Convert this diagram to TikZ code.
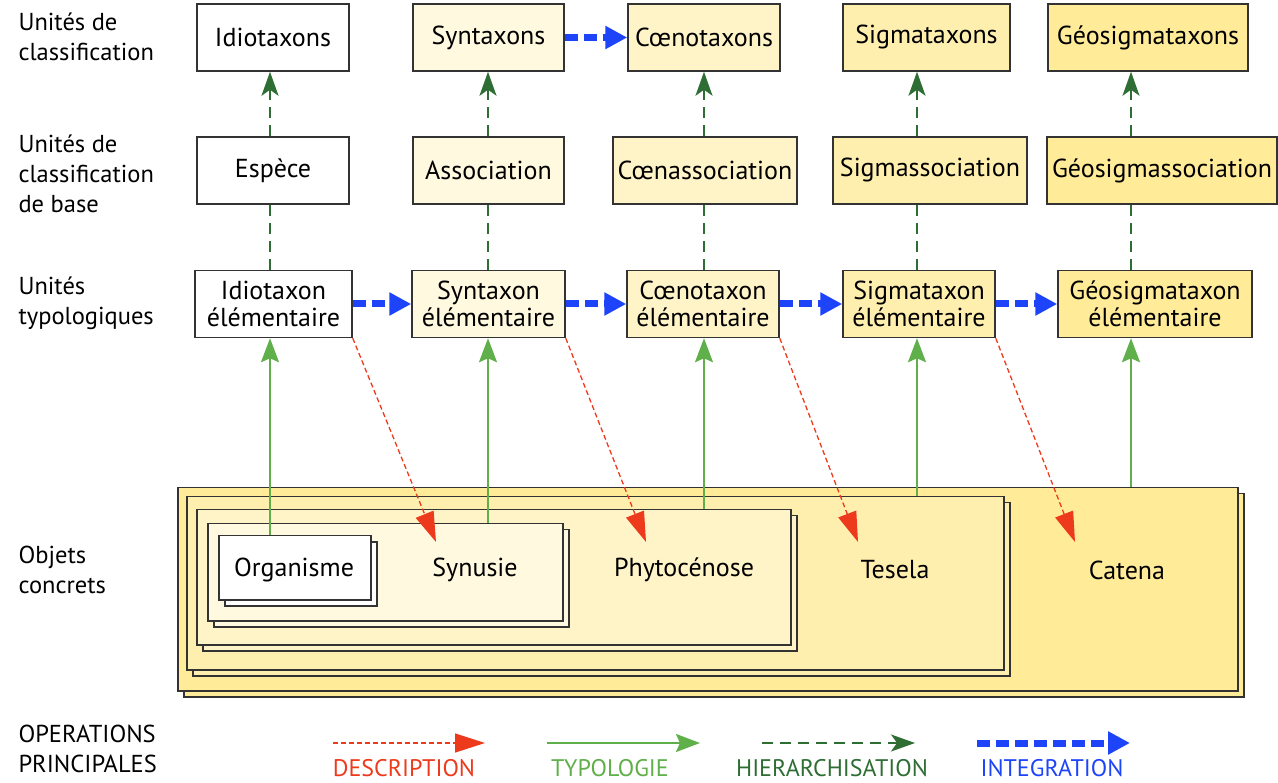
\documentclass[tikz,border=0pt]{standalone}
\usepackage{fontspec}
\setmainfont{PT Sans}
\usepackage{xcolor}
\usepackage{tikz}
\usetikzlibrary{arrows.meta,shadows}

\definecolor{boxline}{HTML}{333333}
\definecolor{yelA}{HTML}{FFF9DF}
\definecolor{yelB}{HTML}{FFF4C8}
\definecolor{yelC}{HTML}{FFEFAF}
\definecolor{yelD}{HTML}{FFEB98}
\definecolor{descred}{HTML}{EE3A1C}
\definecolor{typogreen}{HTML}{5FAF4A}
\definecolor{hiergreen}{HTML}{2E6E35}
\definecolor{integblue}{HTML}{1E44FA}

\begin{document}
\begin{tikzpicture}[
    x=1pt, y=-1pt,
    every node/.style={font=\fontsize{26}{27}\selectfont},
    unit/.style={
        draw=boxline,
        line width=1.5pt,
        minimum height=67pt,
        inner sep=1pt,
        align=center
    },
    concrete/.style={
        draw=boxline,
        fill=#1,
        line width=1.5pt,
        inner sep=0pt,
        anchor=north west,
        copy shadow={shadow xshift=6pt, shadow yshift=-6pt, draw=boxline, fill=#1, line width=1.5pt}
    },
    rowlabel/.style={anchor=west, align=left, font=\fontsize{24.5}{30}\selectfont},
    legtext/.style={anchor=base, inner sep=0pt, font=\fontsize{24}{26}\selectfont},
    descr/.style={draw=descred, line width=1.3pt, dash pattern=on 5pt off 3pt,
        -{Triangle[length=30pt, width=19pt]}},
    typo/.style={draw=typogreen, line width=2pt, -{Stealth[length=24pt, width=18pt, inset=4pt]}},
    hier/.style={draw=hiergreen, line width=2pt, dash pattern=on 11pt off 7pt},
    hierarrow/.style={hier, -{Stealth[length=24pt, width=17pt, inset=6pt]}},
    integ/.style={draw=integblue, line width=7pt, dash pattern=on 13pt off 6pt,
        -{Triangle[length=22pt, width=22pt]}}
]
\useasboundingbox (0,0) rectangle (1278,783);

\coordinate (c1) at (270,0);
\coordinate (c2) at (488,0);
\coordinate (c3) at (704,0);
\coordinate (c4) at (917,0);
\coordinate (c5) at (1131,0);

\node[rowlabel] (lblclass) at (15,37) {Unités de\\classification};
\node[rowlabel] (lblbase) at (15,174) {Unités de\\classification\\de base};
\node[rowlabel] (lbltypo) at (15,303) {Unités\\typologiques};
\node[rowlabel] (lblobj) at (15,570) {Objets\\concrets};
\node[rowlabel] (lblops) at (15,749) {OPERATIONS\\PRINCIPALES};

\node[unit, fill=white, minimum width=152pt] (idiotaxons) at (273,37.5) {Idiotaxons};
\node[unit, fill=yelA, minimum width=151pt] (syntaxons) at (488.5,37.5) {Syntaxons};
\node[unit, fill=yelB, minimum width=152pt] (coenotaxons) at (704,37.5) {Cœnotaxons};
\node[unit, fill=yelC, minimum width=167pt] (sigmataxons) at (926.5,37.5) {Sigmataxons};
\node[unit, fill=yelD, minimum width=200pt] (geotaxons) at (1148,37.5) {Géosigmataxons};

\node[unit, fill=white, minimum width=152pt] (espece) at (273,170.5) {Espèce};
\node[unit, fill=yelA, minimum width=151pt] (association) at (488.5,170.5) {Association};
\node[unit, fill=yelB, minimum width=184pt] (coenass) at (705,170.5) {Cœnassociation};
\node[unit, fill=yelC, minimum width=194pt] (sigmass) at (930,170.5) {Sigmassociation};
\node[unit, fill=yelD, minimum width=230pt] (geosigmass) at (1162,170.5) {Géosigmassociation};

\node[unit, fill=white, minimum width=157pt] (idioelem) at (273.5,304) {Idiotaxon\\élémentaire};
\node[unit, fill=yelA, minimum width=153pt] (synelem) at (488.5,304) {Syntaxon\\élémentaire};
\node[unit, fill=yelB, minimum width=152pt] (coenoelem) at (703,304) {Cœnotaxon\\élémentaire};
\node[unit, fill=yelC, minimum width=152pt] (sigmaelem) at (919,304) {Sigmataxon\\élémentaire};
\node[unit, fill=yelD, minimum width=194pt] (geoelem) at (1155,304) {Géosigmataxon\\élémentaire};

\node[concrete=yelD, minimum width=1060pt, minimum height=203pt] (catena) at (177,487) {};
\node[concrete=yelC, minimum width=817pt, minimum height=173pt] (tesela) at (186,496) {};
\node[concrete=yelB, minimum width=594pt, minimum height=135pt] (phyto) at (196,509) {};
\node[concrete=yelA, minimum width=355pt, minimum height=97pt] (synusie) at (207,523) {};
\node[concrete=white, minimum width=152pt, minimum height=64pt] (organisme) at (218,535) {};

\node (lblorg) at (294,570) {Organisme};
\node (lblsyn) at (475,570) {Synusie};
\node (lblphyto) at (684,570) {Phytocénose};
\node (lbltesela) at (895,570) {Tesela};
\node (lblcatena) at (1127,570) {Catena};

\coordinate (d1) at (436,542);
\coordinate (d2) at (646,542);
\coordinate (d3) at (858,542);
\coordinate (d4) at (1075,542);

\draw[typo] (organisme.north -| c1) -- (idioelem.south -| c1);
\draw[typo] (synusie.north -| c2) -- (synelem.south -| c2);
\draw[typo] (phyto.north -| c3) -- (coenoelem.south -| c3);
\draw[typo] (tesela.north -| c4) -- (sigmaelem.south -| c4);
\draw[typo] (catena.north -| c5) -- (geoelem.south -| c5);

\draw[descr] (idioelem.south east) -- (d1);
\draw[descr] (synelem.south east) -- (d2);
\draw[descr] (coenoelem.south east) -- (d3);
\draw[descr] (sigmaelem.south east) -- (d4);

\draw[hier] (idioelem.north -| c1) -- (espece.south -| c1);
\draw[hier] (synelem.north -| c2) -- (association.south -| c2);
\draw[hier] (coenoelem.north -| c3) -- (coenass.south -| c3);
\draw[hier] (sigmaelem.north -| c4) -- (sigmass.south -| c4);
\draw[hier] (geoelem.north -| c5) -- (geosigmass.south -| c5);
\draw[hierarrow] (espece.north -| c1) -- (idiotaxons.south -| c1);
\draw[hierarrow] (association.north -| c2) -- (syntaxons.south -| c2);
\draw[hierarrow] (coenass.north -| c3) -- (coenotaxons.south -| c3);
\draw[hierarrow] (sigmass.north -| c4) -- (sigmataxons.south -| c4);
\draw[hierarrow] (geosigmass.north -| c5) -- (geotaxons.south -| c5);

\draw[integ] (syntaxons) -- (coenotaxons);
\draw[integ] (idioelem) -- (synelem);
\draw[integ] (synelem) -- (coenoelem);
\draw[integ] (coenoelem) -- (sigmaelem);
\draw[integ] (sigmaelem) -- (geoelem);

\coordinate (ld0) at (333,743);
\coordinate (ld1) at (485,743);
\coordinate (lt0) at (547,743);
\coordinate (lt1) at (700,743);
\coordinate (lh0) at (762,743);
\coordinate (lh1) at (915,743);
\coordinate (li0) at (977,743);
\coordinate (li1) at (1130,743);

\draw[descr] (ld0) -- (ld1);
\draw[typo] (lt0) -- (lt1);
\draw[hierarrow] (lh0) -- (lh1);
\draw[integ] (li0) -- (li1);

\node[legtext, text=descred] (lgdesc) at (404,776) {DESCRIPTION};
\node[legtext, text=typogreen] (lgtypo) at (610,776) {TYPOLOGIE};
\node[legtext, text=hiergreen] (lghier) at (832,776) {HIERARCHISATION};
\node[legtext, text=integblue] (lginteg) at (1052,776) {INTEGRATION};

\end{tikzpicture}
\end{document}
